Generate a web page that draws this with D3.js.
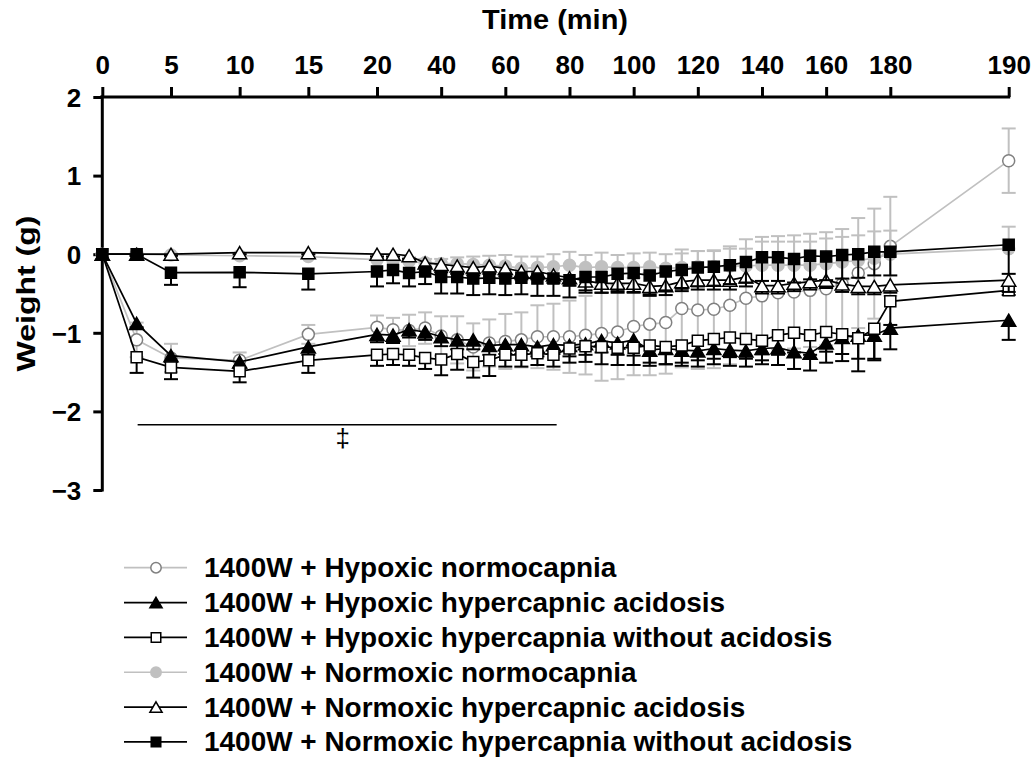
<!DOCTYPE html>
<html>
<head>
<meta charset="utf-8">
<script src="https://cdn.jsdelivr.net/npm/d3@7/dist/d3.min.js"></script>
<style>
  html, body { margin: 0; padding: 0; background: #fff; }
  svg { display: block; }
  text { font-family: "Liberation Sans", Arial, sans-serif; font-weight: bold; fill: #000; }
</style>
</head>
<body>
<svg id="chart" width="1033" height="759"></svg>
<script>
// ---------------- DATA ----------------
const times = [0,2.5,5,10,15,20,25,30,35,40,45,50,55,60,65,70,75,80,85,90,95,100,105,110,115,120,125,130,135,140,145,150,155,160,165,170,175,180,190];

const xTickValues = [0,5,10,15,20,40,60,80,100,120,140,160,180,190];
const yTickValues = [2,1,0,-1,-2,-3];

const seriesNames = [
  "1400W + Hypoxic normocapnia",
  "1400W + Hypoxic hypercapnic acidosis",
  "1400W + Hypoxic hypercapnia without acidosis",
  "1400W + Normoxic normocapnia",
  "1400W + Normoxic hypercapnic acidosis",
  "1400W + Normoxic hypercapnia without acidosis"
];

const hypoxicNormo = [0,-1.09,-1.32,-1.35,-1.02,-0.93,-0.96,-0.97,-0.94,-1.04,-1.09,-1.18,-1.13,-1.11,-1.09,-1.05,-1.05,-1.05,-1.03,-1.01,-0.99,-0.92,-0.89,-0.87,-0.69,-0.71,-0.70,-0.65,-0.56,-0.53,-0.49,-0.48,-0.46,-0.44,-0.38,-0.24,-0.12,0.10,1.19];
const hypoxicNormoSem = [0,0.22,0.18,0.10,0.12,0.15,0.15,0.20,0.20,0.25,0.30,0.30,0.30,0.35,0.35,0.40,0.42,0.46,0.50,0.60,0.60,0.62,0.65,0.65,0.75,0.75,0.75,0.75,0.75,0.75,0.72,0.72,0.72,0.72,0.70,0.70,0.70,0.63,0.41];

const hypoxicHcA = [0,-0.88,-1.29,-1.37,-1.18,-1.02,-1.03,-0.96,-0.99,-1.05,-1.09,-1.09,-1.16,-1.15,-1.15,-1.18,-1.15,-1.16,-1.14,-1.10,-1.13,-1.09,-1.22,-1.20,-1.22,-1.23,-1.20,-1.22,-1.23,-1.20,-1.19,-1.24,-1.26,-1.13,-1.06,-1.03,-1.03,-0.94,-0.84];
const hypoxicHcASem = [0,0.05,0.08,0.08,0.10,0.10,0.10,0.10,0.10,0.12,0.12,0.12,0.12,0.12,0.12,0.12,0.12,0.14,0.14,0.15,0.15,0.20,0.20,0.20,0.20,0.20,0.20,0.20,0.20,0.20,0.22,0.22,0.22,0.25,0.30,0.30,0.30,0.27,0.25];

const hypoxicHcNoA = [0,-1.31,-1.44,-1.49,-1.35,-1.28,-1.27,-1.28,-1.32,-1.34,-1.27,-1.37,-1.35,-1.28,-1.28,-1.26,-1.28,-1.20,-1.17,-1.18,-1.19,-1.19,-1.16,-1.18,-1.16,-1.10,-1.08,-1.06,-1.08,-1.10,-1.03,-1.00,-1.03,-0.99,-1.02,-1.07,-0.95,-0.60,-0.46];
const hypoxicHcNoASem = [0,0.20,0.15,0.14,0.16,0.14,0.14,0.14,0.14,0.20,0.20,0.20,0.20,0.15,0.15,0.15,0.15,0.18,0.20,0.22,0.22,0.22,0.22,0.22,0.22,0.25,0.25,0.25,0.25,0.25,0.25,0.25,0.25,0.25,0.25,0.42,0.40,0.30,0.06];

const normoxicNormo = [0,0,-0.01,-0.02,-0.03,-0.07,-0.08,-0.09,-0.11,-0.12,-0.12,-0.13,-0.14,-0.15,-0.18,-0.17,-0.16,-0.14,-0.17,-0.16,-0.17,-0.17,-0.16,-0.18,-0.17,-0.16,-0.16,-0.15,-0.15,-0.14,-0.14,-0.14,-0.14,-0.12,-0.10,-0.08,-0.05,0.00,0.07];
const normoxicNormoSem = [0,0.02,0.02,0.02,0.02,0.05,0.05,0.05,0.05,0.06,0.08,0.10,0.12,0.14,0.15,0.14,0.16,0.17,0.16,0.18,0.16,0.18,0.18,0.18,0.18,0.20,0.20,0.22,0.22,0.30,0.30,0.30,0.30,0.32,0.32,0.32,0.34,0.30,0.28];

const normoxicHcA = [0,0,0,0.02,0.02,0,0,-0.02,-0.11,-0.13,-0.15,-0.17,-0.15,-0.18,-0.22,-0.22,-0.265,-0.30,-0.34,-0.37,-0.37,-0.37,-0.41,-0.40,-0.35,-0.33,-0.33,-0.33,-0.29,-0.40,-0.40,-0.37,-0.35,-0.33,-0.38,-0.41,-0.41,-0.39,-0.33];
const normoxicHcASem = [0,0.02,0.02,0.02,0.02,0.03,0.03,0.04,0.06,0.10,0.10,0.10,0.10,0.10,0.10,0.10,0.10,0.10,0.12,0.12,0.12,0.12,0.12,0.12,0.12,0.12,0.12,0.12,0.12,0.10,0.10,0.10,0.10,0.10,0.10,0.10,0.10,0.10,0.15];

const normoxicHcNoA = [0,0,-0.235,-0.23,-0.25,-0.22,-0.20,-0.24,-0.22,-0.29,-0.29,-0.31,-0.30,-0.31,-0.30,-0.31,-0.31,-0.33,-0.29,-0.29,-0.25,-0.24,-0.27,-0.22,-0.20,-0.17,-0.16,-0.14,-0.10,-0.04,-0.04,-0.06,-0.02,-0.03,-0.01,0.00,0.03,0.03,0.12];
const normoxicHcNoASem = [0,0.02,0.155,0.19,0.20,0.19,0.17,0.17,0.16,0.21,0.21,0.21,0.21,0.21,0.21,0.22,0.22,0.22,0.20,0.20,0.22,0.24,0.24,0.24,0.24,0.24,0.24,0.24,0.26,0.30,0.30,0.30,0.30,0.30,0.30,0.30,0.30,0.30,0.37];

// ---------------- STYLES ----------------
const series = [
  { name: seriesNames[0], values: hypoxicNormo,   sem: hypoxicNormoSem,   dir: "both", shape: "circle",   fill: "#ffffff", stroke: "#808080", line: "#c0c0c0", bar: "#c0c0c0" },
  { name: seriesNames[1], values: hypoxicHcA,     sem: hypoxicHcASem,     dir: "down", shape: "triangle", fill: "#000000", stroke: "#000000", line: "#000000", bar: "#000000" },
  { name: seriesNames[2], values: hypoxicHcNoA,   sem: hypoxicHcNoASem,   dir: "down", shape: "square",   fill: "#ffffff", stroke: "#000000", line: "#000000", bar: "#000000" },
  { name: seriesNames[3], values: normoxicNormo,  sem: normoxicNormoSem,  dir: "up",   shape: "circle",   fill: "#c0c0c0", stroke: "#c0c0c0", line: "#c0c0c0", bar: "#c0c0c0" },
  { name: seriesNames[4], values: normoxicHcA,    sem: normoxicHcASem,    dir: "down", shape: "triangle", fill: "#ffffff", stroke: "#000000", line: "#000000", bar: "#000000" },
  { name: seriesNames[5], values: normoxicHcNoA,  sem: normoxicHcNoASem,  dir: "down", shape: "square",   fill: "#000000", stroke: "#000000", line: "#000000", bar: "#000000" }
];

// ---------------- SCALES ----------------
const svg = d3.select("#chart");
const x = d3.scaleLinear().domain([0, 20, 180, 190]).range([102.3, 377, 890.3, 1008.7]);
const y = d3.scaleLinear().domain([-3, 2]).range([490, 97]);

// bbox-centred triangle symbol
const triType = {
  draw(ctx, size) {
    const w = Math.sqrt(size) * 1.5, h = w * 0.86;
    ctx.moveTo(0, -h / 2);
    ctx.lineTo(w / 2, h / 2);
    ctx.lineTo(-w / 2, h / 2);
    ctx.closePath();
  }
};
function symbolPath(shape, scale) {
  if (shape === "circle") return d3.symbol(d3.symbolCircle, Math.PI * 6 * 6 * scale)();
  if (shape === "square") return d3.symbol(d3.symbolSquare, 11 * 11 * scale)();
  return d3.symbol(triType, 88 * scale)();
}

// ---------------- AXES ----------------
const xAxis = d3.axisTop(x).tickValues(xTickValues).tickSize(10).tickPadding(13).tickFormat(d3.format("d"));
const gx = svg.append("g").attr("transform", `translate(0,${y(2)})`).call(xAxis);
gx.select(".domain").attr("d", `M${x(0) - 2},0H${x(190) + 1.5}`).attr("stroke-width", 3);
gx.selectAll(".tick line").attr("stroke-width", 3);
gx.selectAll(".tick text").style("font-size", "26px").style("font-family", "Liberation Sans, Arial, sans-serif").style("font-weight", "bold");

const yAxis = d3.axisLeft(y).tickValues(yTickValues).tickSize(9).tickPadding(12).tickFormat(d3.format("d"));
const gy = svg.append("g").attr("transform", `translate(${x(0)},0)`).call(yAxis);
gy.select(".domain").attr("d", `M0,${y(2) - 1.5}V${y(-3) + 1.5}`).attr("stroke-width", 3);
gy.selectAll(".tick line").attr("stroke-width", 3);
gy.selectAll(".tick text").style("font-size", "26px").style("font-family", "Liberation Sans, Arial, sans-serif").style("font-weight", "bold").attr("dy", "0.36em");
svg.selectAll(".domain, .tick line").attr("stroke", "#000");

svg.append("text").attr("x", 555).attr("y", 29).attr("text-anchor", "middle")
  .style("font-size", "27px").attr("textLength", 146).attr("lengthAdjust", "spacingAndGlyphs").text("Time (min)");
svg.append("text").attr("transform", `translate(35,${(y(2) + y(-3)) / 2}) rotate(-90)`)
  .attr("text-anchor", "middle").style("font-size", "25px")
  .attr("textLength", 156).attr("lengthAdjust", "spacingAndGlyphs").text("Weight (g)");

// ---------------- SERIES ----------------
const line = d3.line().x((d) => x(d.t)).y((d) => y(d.v));
series.forEach((s) => {
  const pts = times.map((t, i) => ({ t, v: s.values[i], e: s.sem[i] }));
  const g = svg.append("g");
  pts.forEach((p) => {
    if (!p.e) return;
    const ends = [];
    if (s.dir === "both" || s.dir === "down") ends.push(p.v - p.e);
    if (s.dir === "both" || s.dir === "up") ends.push(p.v + p.e);
    ends.forEach((ev) => {
      g.append("line").attr("x1", x(p.t)).attr("x2", x(p.t)).attr("y1", y(p.v)).attr("y2", y(ev))
        .attr("stroke", s.bar).attr("stroke-width", 2);
      g.append("line").attr("x1", x(p.t) - 7).attr("x2", x(p.t) + 7).attr("y1", y(ev)).attr("y2", y(ev))
        .attr("stroke", s.bar).attr("stroke-width", 2);
    });
  });
  g.append("path").datum(pts).attr("d", line).attr("fill", "none").attr("stroke", s.line).attr("stroke-width", 1.7);
  g.selectAll("path.mk").data(pts).enter().append("path").attr("class", "mk")
    .attr("d", symbolPath(s.shape, 1))
    .attr("transform", (d) => `translate(${x(d.t)},${y(d.v)})`)
    .attr("fill", s.fill).attr("stroke", s.stroke).attr("stroke-width", 1.5);
});

// significance bar
svg.append("line").attr("x1", x(2.5) + 1).attr("x2", x(76)).attr("y1", y(-2.17)).attr("y2", y(-2.17))
  .attr("stroke", "#000").attr("stroke-width", 1.7);
svg.append("text").attr("x", x(17.5)).attr("y", y(-2.17) + 22).attr("text-anchor", "middle")
  .style("font-size", "26px").style("font-weight", "normal").text("‡");

// ---------------- LEGEND ----------------
const leg = svg.append("g");
series.forEach((s, i) => {
  const cy = 567.7 + i * 34.85;
  leg.append("line").attr("x1", 124).attr("x2", 187).attr("y1", cy).attr("y2", cy)
    .attr("stroke", s.line).attr("stroke-width", 1.7);
  leg.append("path").attr("d", symbolPath(s.shape, 0.75)).attr("transform", `translate(156,${cy})`)
    .attr("fill", s.fill).attr("stroke", s.stroke).attr("stroke-width", 1.5);
  const t = leg.append("text").attr("x", 204).attr("y", cy + 9.5).style("font-size", "27px").text(s.name);
  const w = t.node().getComputedTextLength();
  t.attr("textLength", w * 1.035).attr("lengthAdjust", "spacingAndGlyphs");
});
</script>
</body>
</html>
